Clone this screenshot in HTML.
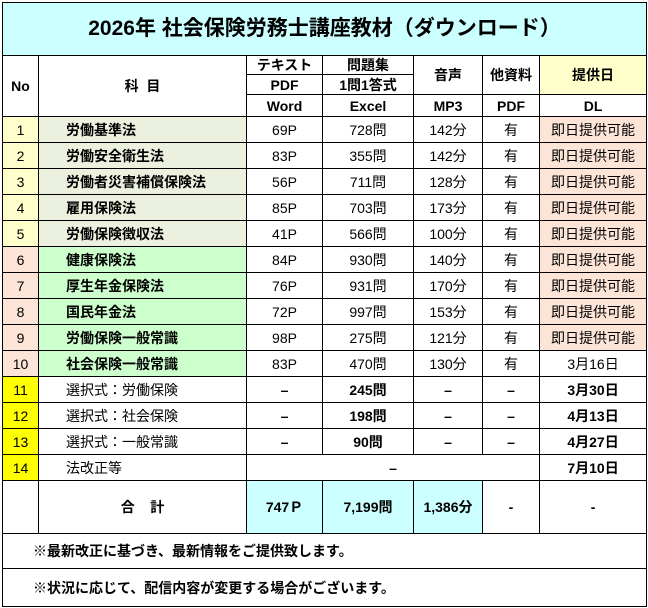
<!DOCTYPE html>
<html><head><meta charset="utf-8"><style>
body{margin:0;background:#fff;width:648px;height:608px;overflow:hidden;font-family:"Liberation Sans","Noto Sans CJK JP",sans-serif;}
table{position:absolute;left:2px;top:2px;border-collapse:collapse;table-layout:fixed;width:644px;font-size:14px;color:#000}
td{border:1px solid #000;text-align:center;padding:0;white-space:nowrap;overflow:hidden;line-height:16px}
.b{font-weight:bold}
.s{text-align:left;padding-left:27px}
.y1{background:#ffffcc}.y2{background:#fce4d6}.y3{background:#ffff00}
.g1{background:#ebf1de}.g2{background:#ccffcc}
.p{background:#fce4d6}.c{background:#ccffff}
tr.d td{height:25px}
.note{text-align:left;padding-left:30px;font-weight:bold}
</style></head><body>
<table>
<colgroup><col style="width:36px"><col style="width:208px"><col style="width:76px"><col style="width:91px"><col style="width:69px"><col style="width:57px"><col style="width:107px"></colgroup>
<tr><td colspan="7" class="c b" style="height:52px;font-size:21px">2026年 社会保険労務士講座教材（ダウンロード）</td></tr>
<tr><td rowspan="3" class="b">No</td><td rowspan="3" class="b">科&nbsp;&nbsp;目</td><td class="b" style="height:18px">テキスト</td><td class="b">問題集</td><td rowspan="2" class="b">音声</td><td rowspan="2" class="b">他資料</td><td rowspan="2" class="b" style="background:#ffffcc">提供日</td></tr>
<tr><td class="b" style="height:19px">PDF</td><td class="b">1問1答式</td></tr>
<tr><td class="b" style="height:21px">Word</td><td class="b">Excel</td><td class="b">MP3</td><td class="b">PDF</td><td class="b">DL</td></tr>
<tr class="d"><td class="y1">1</td><td class="s b g1">労働基準法</td><td>69P</td><td>728問</td><td>142分</td><td>有</td><td class="p">即日提供可能</td></tr>
<tr class="d"><td class="y1">2</td><td class="s b g1">労働安全衛生法</td><td>83P</td><td>355問</td><td>142分</td><td>有</td><td class="p">即日提供可能</td></tr>
<tr class="d"><td class="y1">3</td><td class="s b g1">労働者災害補償保険法</td><td>56P</td><td>711問</td><td>128分</td><td>有</td><td class="p">即日提供可能</td></tr>
<tr class="d"><td class="y1">4</td><td class="s b g1">雇用保険法</td><td>85P</td><td>703問</td><td>173分</td><td>有</td><td class="p">即日提供可能</td></tr>
<tr class="d"><td class="y1">5</td><td class="s b g1">労働保険徴収法</td><td>41P</td><td>566問</td><td>100分</td><td>有</td><td class="p">即日提供可能</td></tr>
<tr class="d"><td class="y2">6</td><td class="s b g2">健康保険法</td><td>84P</td><td>930問</td><td>140分</td><td>有</td><td class="p">即日提供可能</td></tr>
<tr class="d"><td class="y2">7</td><td class="s b g2">厚生年金保険法</td><td>76P</td><td>931問</td><td>170分</td><td>有</td><td class="p">即日提供可能</td></tr>
<tr class="d"><td class="y2">8</td><td class="s b g2">国民年金法</td><td>72P</td><td>997問</td><td>153分</td><td>有</td><td class="p">即日提供可能</td></tr>
<tr class="d"><td class="y2">9</td><td class="s b g2">労働保険一般常識</td><td>98P</td><td>275問</td><td>121分</td><td>有</td><td class="p">即日提供可能</td></tr>
<tr class="d"><td class="y2">10</td><td class="s b g2">社会保険一般常識</td><td>83P</td><td>470問</td><td>130分</td><td>有</td><td>3月16日</td></tr>
<tr class="d"><td class="y3">11</td><td class="s">選択式：労働保険</td><td class="b">–</td><td class="b">245問</td><td class="b">–</td><td class="b">–</td><td class="b">3月30日</td></tr>
<tr class="d"><td class="y3">12</td><td class="s">選択式：社会保険</td><td class="b">–</td><td class="b">198問</td><td class="b">–</td><td class="b">–</td><td class="b">4月13日</td></tr>
<tr class="d"><td class="y3">13</td><td class="s">選択式：一般常識</td><td class="b">–</td><td class="b">90問</td><td class="b">–</td><td class="b">–</td><td class="b">4月27日</td></tr>
<tr class="d"><td class="y3">14</td><td class="s">法改正等</td><td colspan="4" class="b">–</td><td class="b">7月10日</td></tr>
<tr><td style="height:52px"></td><td class="b">合&nbsp;&nbsp;&nbsp;&nbsp;計</td><td class="b c">747Ｐ</td><td class="b c">7,199問</td><td class="b c">1,386分</td><td class="b">-</td><td class="b">-</td></tr>
<tr><td colspan="7" class="note" style="height:34px">※最新改正に基づき、最新情報をご提供致します。</td></tr>
<tr><td colspan="7" class="note" style="height:37px">※状況に応じて、配信内容が変更する場合がございます。</td></tr>
</table>
</body></html>
